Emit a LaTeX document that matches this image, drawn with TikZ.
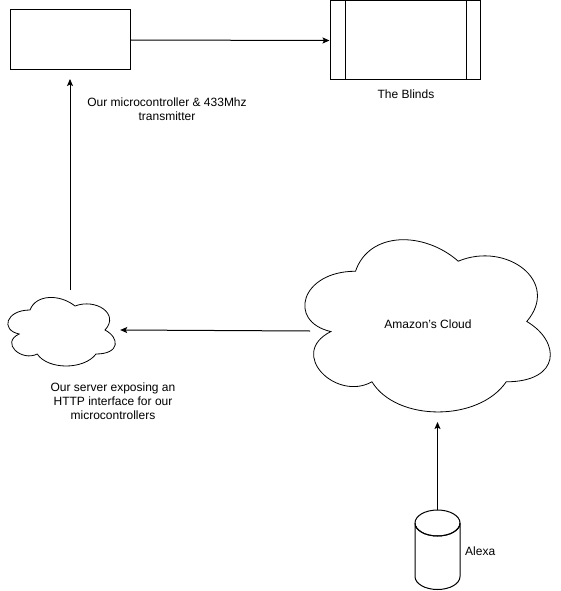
\documentclass[tikz,border=0pt]{standalone}
\usepackage{fontspec}
\setmainfont{Liberation Sans}
\usetikzlibrary{arrows.meta}
\tikzset{
  line/.style={draw=black, line width=1pt},
  arr/.style={line, -{Stealth[length=7pt,width=6pt,inset=1.5pt]}},
  lbl/.style={font=\fontsize{12}{14}\selectfont, align=center, inner sep=0pt},
  box/.style={draw=black, line width=1pt, inner sep=0pt, fill=white},
}
\newcommand{\mycloud}[4]{%
  \begin{scope}[shift={(#1,#2)}, x=#3pt, y=-#4pt]
    \draw[line width=0.8pt] (0.25,0.25) .. controls (0.05,0.25) and (0,0.5) .. (0.16,0.55)
      .. controls (0,0.66) and (0.18,0.9) .. (0.31,0.8)
      .. controls (0.4,1) and (0.7,1) .. (0.8,0.8)
      .. controls (1,0.8) and (1,0.6) .. (0.875,0.5)
      .. controls (1,0.3) and (0.8,0.1) .. (0.625,0.2)
      .. controls (0.5,0.05) and (0.3,0.05) .. (0.25,0.25) -- cycle;
  \end{scope}}
\begin{document}
\begin{tikzpicture}[x=1pt,y=-1pt]
\useasboundingbox[fill=white] (0,0) rectangle (561,591);
% micro-controller box
\node[box, minimum width=120pt, minimum height=60pt] (mcu) at (70,40) {};
% blinds
\node[box, minimum width=150pt, minimum height=79pt] (blinds) at (405,40.5) {};
\draw[line] (345,1) -- (345,80);
\draw[line] (466,1) -- (466,80);
\node[lbl] (blindslbl) at (406,94) {The Blinds};
\node[lbl] (mculbl) at (167,109.5) {Our microcontroller \& 433Mhz\\transmitter};
% small cloud
\mycloud{0}{290}{120}{80}
\node[minimum width=120pt, minimum height=80pt, inner sep=0pt] (srv) at (60,330) {};
\node[lbl] (srvlbl) at (113,401.5) {Our server exposing an\\HTTP interface for our\\microcontrollers};
% big cloud
\mycloud{287}{221}{274}{201}
\node[lbl] (amz) at (428,324) {Amazon's Cloud};
\coordinate (amzW) at (310,331);
\coordinate (amzS) at (437.5,422);
% cylinder
\coordinate (alexaT) at (437.5,510);
\draw[line, fill=white] (415,523) arc[start angle=180, end angle=360, x radius=22.5pt, y radius=13pt]
  -- (460,576.5) arc[start angle=0, end angle=-180, x radius=22.5pt, y radius=13pt] -- cycle;
\draw[line] (437.5,523) ellipse[x radius=22.5pt, y radius=13pt];
\node[lbl, anchor=west] (alexa) at (465,551) {Alexa};
% connectors
\coordinate (srvN) at (70,290);
\coordinate (mcuS) at (70,79);
\draw[arr] (mcu.east) -- (blinds.west);
\draw[arr] (srvN) -- (mcuS);
\draw[arr] (amzW) -- (srv.east);
\draw[arr] (alexaT) -- (amzS);
\end{tikzpicture}
\end{document}
